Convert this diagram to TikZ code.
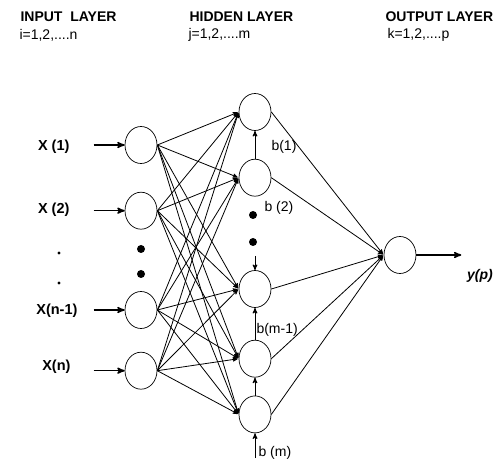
\documentclass[tikz,border=0pt]{standalone}
\usepackage{fontspec}
\setmainfont{Liberation Sans}
\usepackage{tikz}
\usetikzlibrary{arrows,positioning,shapes.geometric}

\begin{document}
\begin{tikzpicture}[x=1pt,y=-1pt,>=stealth',shorten >=1pt,
                    font=\fontsize{14}{16}\selectfont]

  \useasboundingbox (0,0) rectangle (504,468);
  \tikzstyle{neuron} = [draw, ellipse, minimum width=32pt, minimum height=37pt,
                        inner sep=0pt, line width=0.7pt]
  \tikzstyle{link}   = [->, line width=0.8pt]
  \tikzstyle{feed}   = [->, line width=1.5pt, shorten >=0pt]
  \tikzstyle{bias}   = [->, line width=1pt, shorten >=0pt]
  \tikzstyle{title}  = [anchor=west, font=\fontsize{14}{16}\selectfont\bfseries]
  \tikzstyle{xin}    = [anchor=east, font=\fontsize{14.5}{16}\selectfont\bfseries]

  % layer titles
  \node[title]       (tin)  at (17,17)  {INPUT\ \ LAYER};
  \node[anchor=west] (iin)  at (16,35)  {i=1,2,....n};
  \node[title]       (thid) at (186,17) {HIDDEN LAYER};
  \node[anchor=west] (jhid) at (185,35) {j=1,2,....m};
  \node[title]       (tout) at (382,17) {OUTPUT LAYER};
  \node[anchor=west] (kout) at (384,35) {k=1,2,....p};

  % neurons
  \node[neuron] (I1) at (141,145)       {};
  \node[neuron] (I2) [below=28pt of I1] {};
  \node[neuron] (I3) at (141,310)       {};
  \node[neuron] (I4) [below=23pt of I3] {};

  \node[neuron] (H1) at (255,112)       {};
  \node[neuron] (H2) [below=28pt of H1] {};
  \node[neuron] (H3) at (255,289)       {};
  \node[neuron] (H4) [below=32pt of H3] {};
  \node[neuron] (H5) [below=18pt of H4] {};

  \node[neuron] (O)  at (400,255)       {};

  % inputs
  \node[xin] (X1) at (73,147) {X (1)};
  \node[xin] (X2) at (73,210) {X (2)};
  \node[xin] (X3) at (81,311) {X(n-1)};
  \node[xin] (X4) at (74,367) {X(n)};
  \coordinate[left=31pt of I1] (a1);
  \coordinate[left=31pt of I2] (a2);
  \coordinate[left=31pt of I3] (a3);
  \coordinate[left=31pt of I4] (a4);

  \path (a1) edge [feed] (I1)
        (a2) edge [feed] (I2)
        (a3) edge [feed] (I3)
        (a4) edge [feed] (I4);

  % input -> hidden
  \path (I1.east) edge [link] (H1.west)
        (I1.east) edge [link] (H2.west)
        (I1.east) edge [link] (H3.west)
        (I1.east) edge [link] (H4.west)
        (I1.east) edge [link] (H5.west)
        (I2.east) edge [link] (H1.west)
        (I2.east) edge [link] (H2.west)
        (I2.east) edge [link] (H3.west)
        (I2.east) edge [link] (H4.west)
        (I2.east) edge [link] (H5.west)
        (I3.east) edge [link] (H1.west)
        (I3.east) edge [link] (H2.west)
        (I3.east) edge [link] (H3.west)
        (I3.east) edge [link] (H4.west)
        (I3.east) edge [link] (H5.west)
        (I4.east) edge [link] (H1.west)
        (I4.east) edge [link] (H2.west)
        (I4.east) edge [link] (H3.west)
        (I4.east) edge [link] (H4.west)
        (I4.east) edge [link] (H5.west);

  % hidden -> output
  \path (H1.east) edge [link] (O.west)
        (H2.east) edge [link] (O.west)
        (H3.east) edge [link] (O.west)
        (H4.east) edge [link] (O.west)
        (H5.east) edge [link] (O.west);

  \coordinate[right=45pt of O] (yout);
  \path (O) edge [feed] (yout);
  \node[font=\fontsize{14}{16}\selectfont\bfseries\itshape] (yp) at (480,276) {y(p)};

  % biases
  \coordinate (b2) at (255,256);
  \coordinate (bm) at (255,458);
  \path (H2) edge [bias] (H1)
        (b2) edge [bias] (H3)
        (H4) edge [bias] (H3)
        (H5) edge [bias] (H4)
        (bm) edge [bias] (H5);
  \node[anchor=west] (lb1)  at (268,147) {b(1)};
  \node[anchor=west] (lb2)  at (261,208) {b (2)};
  \node[anchor=west] (lbm1) at (253,330) {b(m-1)};
  \node[anchor=west] (lbm)  at (255,453) {b (m)};

  % dots
  \fill (59,253) circle (1.6pt);
  \fill (59,283) circle (1.6pt);
  \fill (141,249) circle (4pt);
  \fill (141,274) circle (4pt);
  \fill (253,215) circle (4pt);
  \fill (253,242) circle (4pt);

\end{tikzpicture}
\end{document}
